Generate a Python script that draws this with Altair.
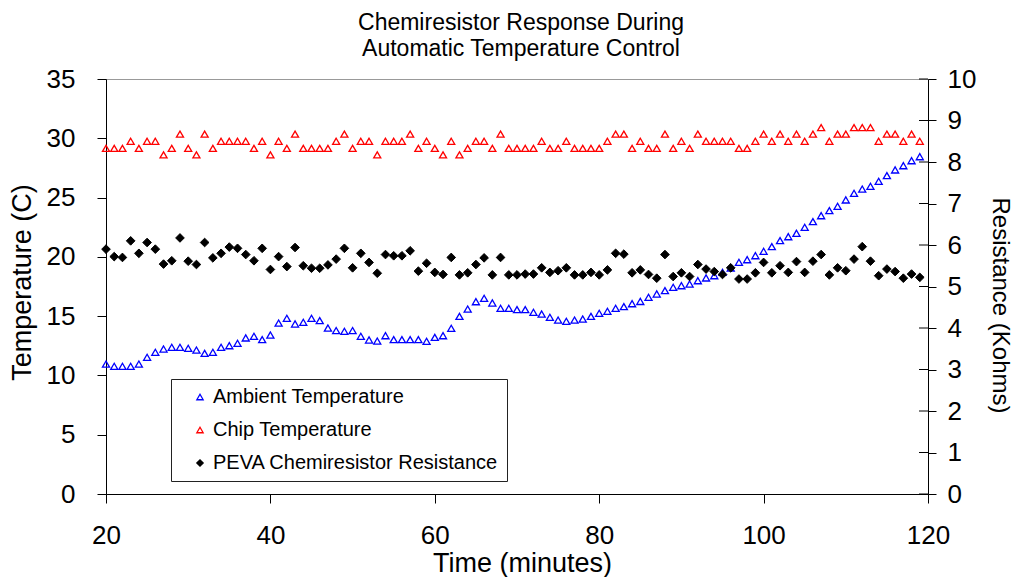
import altair as alt
import pandas as pd

minutes = list(range(20, 120))

ambient = [
    10.96, 10.77, 10.77, 10.77, 10.96, 11.53, 11.95, 12.23, 12.37, 12.37,
    12.29, 12.14, 11.86, 11.95, 12.37, 12.51, 12.71, 13.16, 13.30, 13.02,
    13.41, 14.42, 14.82, 14.34, 14.48, 14.82, 14.62, 14.00, 13.78, 13.72,
    13.78, 13.30, 12.99, 12.90, 13.35, 13.02, 13.02, 13.02, 13.02, 12.88,
    13.21, 13.35, 13.97, 14.98, 15.60, 16.22, 16.50, 16.11, 15.66, 15.66,
    15.55, 15.55, 15.32, 15.18, 14.90, 14.67, 14.56, 14.67, 14.76, 14.98,
    15.24, 15.41, 15.66, 15.80, 16.05, 16.24, 16.59, 16.87, 17.15, 17.43,
    17.57, 17.71, 17.99, 18.22, 18.41, 18.70, 19.06, 19.54, 19.76, 20.10,
    20.47, 20.86, 21.37, 21.70, 21.99, 22.49, 22.97, 23.47, 23.90, 24.26,
    24.80, 25.36, 25.72, 25.95, 26.37, 26.85, 27.33, 27.69, 28.11, 28.45,
]

chip = [
    29.15, 29.15, 29.15, 29.75, 29.15, 29.75, 29.75, 28.60, 29.15, 30.35,
    29.15, 28.60, 30.35, 29.15, 29.75, 29.75, 29.75, 29.75, 29.15, 29.75,
    28.60, 29.75, 29.15, 30.35, 29.15, 29.15, 29.15, 29.15, 29.75, 30.35,
    29.15, 29.75, 29.75, 28.60, 29.75, 29.75, 29.75, 30.35, 29.15, 29.75,
    29.15, 28.60, 29.75, 28.60, 29.15, 29.75, 29.75, 29.15, 30.35, 29.15,
    29.15, 29.15, 29.15, 29.75, 29.15, 29.15, 29.75, 29.15, 29.15, 29.15,
    29.15, 29.75, 30.35, 30.35, 29.15, 29.75, 29.15, 29.15, 30.35, 29.15,
    29.75, 29.15, 30.35, 29.75, 29.75, 29.75, 29.75, 29.15, 29.15, 29.75,
    30.35, 29.75, 30.35, 29.75, 30.35, 29.75, 30.35, 30.90, 29.75, 30.35,
    30.35, 30.90, 30.90, 30.90, 29.75, 30.35, 30.35, 29.75, 30.35, 29.75,
]

resistance = [
    5.90, 5.72, 5.70, 6.10, 5.80, 6.06, 5.90, 5.54, 5.62, 6.17,
    5.61, 5.53, 6.06, 5.69, 5.80, 5.95, 5.92, 5.77, 5.62, 5.92,
    5.41, 5.72, 5.48, 5.94, 5.50, 5.44, 5.44, 5.52, 5.66, 5.92,
    5.45, 5.80, 5.58, 5.32, 5.77, 5.74, 5.74, 5.86, 5.37, 5.56,
    5.34, 5.29, 5.70, 5.28, 5.33, 5.53, 5.69, 5.28, 5.70, 5.28,
    5.28, 5.30, 5.30, 5.45, 5.34, 5.38, 5.45, 5.28, 5.28, 5.34,
    5.28, 5.40, 5.80, 5.78, 5.33, 5.40, 5.29, 5.20, 5.77, 5.24,
    5.33, 5.24, 5.53, 5.42, 5.36, 5.29, 5.45, 5.18, 5.18, 5.33,
    5.58, 5.33, 5.50, 5.34, 5.60, 5.34, 5.61, 5.77, 5.28, 5.45,
    5.38, 5.66, 5.96, 5.61, 5.26, 5.42, 5.36, 5.20, 5.30, 5.22,
]

series_names = ["Ambient Temperature", "Chip Temperature", "PEVA Chemiresistor Resistance"]
series_stroke = ["#0000ff", "#ff0000", "#000000"]
series_fill = ["transparent", "transparent", "#000000"]
series_shape = ["triangle-up", "triangle-up", "diamond"]

x_ticks = [20, 40, 60, 80, 100, 120]
temp_ticks = [0, 5, 10, 15, 20, 25, 30, 35]
res_ticks = [0, 1, 2, 3, 4, 5, 6, 7, 8, 9, 10]

title_lines = ["Chemiresistor Response During", "Automatic Temperature Control"]

temp_df = pd.DataFrame({
    "minute": minutes + minutes,
    "value": ambient + chip,
    "series": [series_names[0]] * len(minutes) + [series_names[1]] * len(minutes),
})
res_df = pd.DataFrame({
    "minute": minutes,
    "value": resistance,
    "series": [series_names[2]] * len(minutes),
})
tick_df = pd.DataFrame({"tick": res_ticks})

FONT = "Liberation Sans"
W, H = 822, 415

x_enc = alt.X(
    "minute:Q",
    scale=alt.Scale(domain=[20, 120], nice=False, zero=False),
    axis=alt.Axis(
        values=x_ticks, title="Time (minutes)", tickSize=9, labelPadding=19,
        titleX=416, titleY=69, titleBaseline="middle", titleAlign="center",
        titleFontSize=27,
    ),
)

legend = alt.Legend(
    title=None, orient="none", legendX=65, legendY=300,
    labelFont=FONT, labelFontSize=20, labelColor="black", labelLimit=500,
    labelExpr="datum.label + '\u00a0\u00a0\u00a0'",
    symbolSize=40, symbolStrokeWidth=1.3, rowPadding=13, padding=8,
    symbolOffset=11, labelOffset=3,
    strokeColor="#222222", fillColor="white",
)

stroke_enc = alt.Stroke("series:N", scale=alt.Scale(domain=series_names, range=series_stroke), legend=legend)
fill_enc = alt.Fill("series:N", scale=alt.Scale(domain=series_names, range=series_fill), legend=legend)
shape_enc = alt.Shape("series:N", scale=alt.Scale(domain=series_names, range=series_shape), legend=legend)

y_temp = alt.Y(
    "value:Q",
    scale=alt.Scale(domain=[0, 35], nice=False),
    axis=alt.Axis(
        values=temp_ticks, title="Temperature (C)", tickSize=9, labelPadding=22,
        titleX=-84, titleY=203, titleAngle=270, titleBaseline="middle", titleAlign="center",
        titleFontSize=27,
    ),
)

res_axis = alt.Axis(
    orient="right", values=res_ticks, title="Resistance (Kohms)", tickSize=8, labelPadding=11,
    titleX=71, titleY=226, titleAngle=90, titleBaseline="middle", titleAlign="center",
    titleFontSize=24,
)
res_scale = alt.Scale(domain=[0, 10], nice=False)

temp_layer = alt.Chart(temp_df).mark_point(size=50, strokeWidth=1.3, opacity=1).encode(
    x=x_enc, y=y_temp, stroke=stroke_enc, fill=fill_enc, shape=shape_enc,
)

res_layer = alt.Chart(res_df).mark_point(size=75, strokeWidth=1, opacity=1).encode(
    x=x_enc,
    y=alt.Y("value:Q", scale=res_scale, axis=res_axis),
    stroke=stroke_enc, fill=fill_enc, shape=shape_enc,
)

inner_ticks = alt.Chart(tick_df).mark_rule(color="black", strokeWidth=1).encode(
    x=alt.value(W - 9), x2=alt.value(W),
    y=alt.Y("tick:Q", scale=res_scale, axis=res_axis),
)

right_part = alt.layer(res_layer, inner_ticks)

chart = alt.layer(temp_layer, right_part).resolve_scale(y="independent").properties(
    width=W, height=H,
    autosize=alt.AutoSizeParams(type="none"),
    padding={"left": 106, "top": 79, "right": 85, "bottom": 83},
    title=alt.TitleParams(
        text=title_lines, font=FONT, fontSize=23, fontWeight="normal", color="black",
        anchor="middle", baseline="bottom", offset=17, lineHeight=26, dx=4, dy=35,
    ),
    background="white",
).configure_view(
    stroke="#999999", strokeWidth=1,
).configure_axis(
    grid=False, domainColor="black", domainWidth=1, tickColor="black", tickWidth=1,
    labelFont=FONT, labelFontSize=26, labelColor="black",
    titleFont=FONT, titleFontWeight="normal", titleColor="black",
    labelFlush=False, labelOverlap=False,
)

chart.save("out.html", embed_options={"renderer": "svg", "actions": False})
